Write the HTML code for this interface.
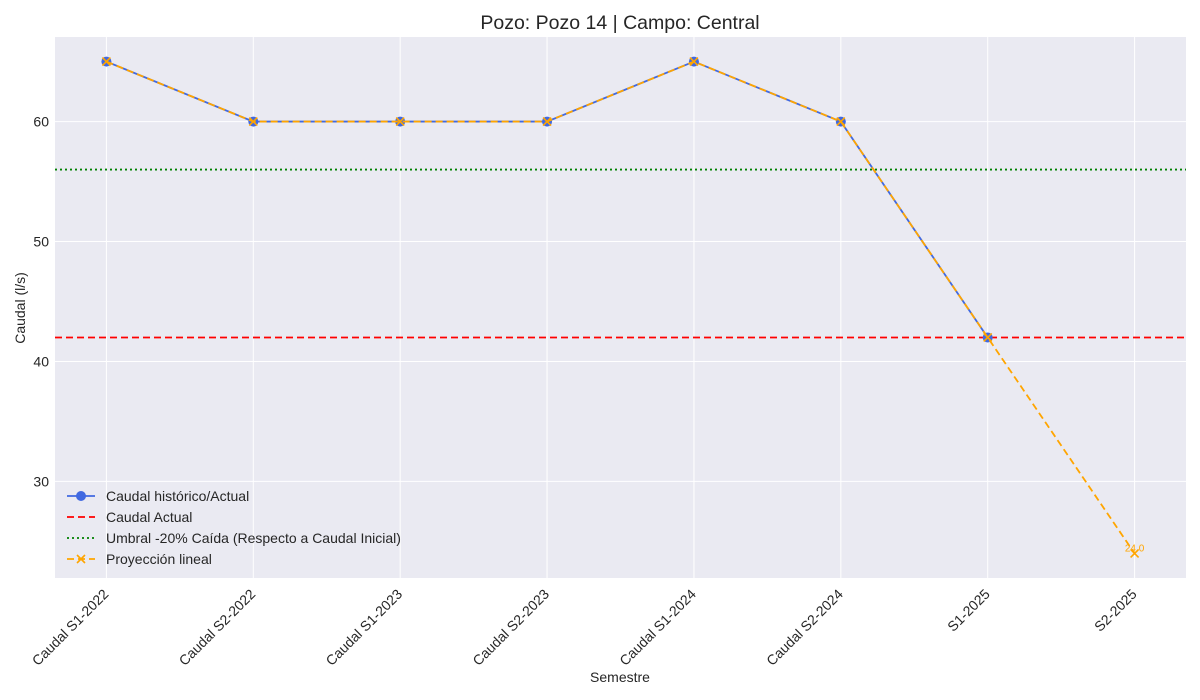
<!DOCTYPE html>
<html><head><meta charset="utf-8"><style>
body{margin:0;background:#fff;}
svg{display:block;font-family:"Liberation Sans","DejaVu Sans",sans-serif;}
</style></head><body>
<svg id="c" width="1200" height="700" xmlns="http://www.w3.org/2000/svg"></svg>
<script>
const categories=["Caudal S1-2022","Caudal S2-2022","Caudal S1-2023","Caudal S2-2023","Caudal S1-2024","Caudal S2-2024","S1-2025","S2-2025"];
const historico=[65,60,60,60,65,60,42];
const proyeccion=[65,60,60,60,65,60,42,24];
const caudalActual=42;
const umbral=56;
const yTicks=[30,40,50,60];
const L=55,R=1186,T=37,B=578,x0=-0.35,x1=7.35,y0=21.95,y1=67.05;
const X=i=>L+(i-x0)/(x1-x0)*(R-L);
const Y=v=>B-(v-y0)/(y1-y0)*(B-T);
const svg=document.getElementById('c');
const NS='http://www.w3.org/2000/svg';
function el(tag,attrs,parent){const e=document.createElementNS(NS,tag);for(const k in attrs)e.setAttribute(k,attrs[k]);(parent||svg).appendChild(e);return e;}
let bg=el('rect',{x:L,y:T,width:R-L,height:B-T,fill:'#eaeaf2'});


categories.forEach((c,i)=>{
  let g=el('line',{x1:X(i),x2:X(i),y1:T,y2:B,stroke:'#fff','stroke-width':1});
  
  
  let t=el('text',{x:0,y:0,'font-size':14,fill:'#262626','text-anchor':'end',transform:`translate(${X(i)+3},${B+17}) rotate(-45)`});
  t.textContent=c;
  
  
});
yTicks.forEach(v=>{
  let g=el('line',{x1:L,x2:R,y1:Y(v),y2:Y(v),stroke:'#fff','stroke-width':1});
  
  
  let t=el('text',{x:L-6,y:Y(v)+5,'font-size':14,fill:'#262626','text-anchor':'end'});
  t.textContent=v;
  
  
});
let u=el('line',{x1:L,x2:R,y1:Y(umbral),y2:Y(umbral),stroke:'#008000','stroke-width':1.8,'stroke-dasharray':'2,3'});


let a=el('line',{x1:L,x2:R,y1:Y(caudalActual),y2:Y(caudalActual),stroke:'#ff0000','stroke-width':1.8,'stroke-dasharray':'7,4'});


let hp=el('polyline',{points:historico.map((v,i)=>X(i)+','+Y(v)).join(' '),fill:'none',stroke:'#4169e1','stroke-width':1.8});


historico.forEach((v,i)=>{
  let m=el('circle',{cx:X(i),cy:Y(v),r:5,fill:'#4169e1'});
  
  
});
let pp=el('polyline',{points:proyeccion.map((v,i)=>X(i)+','+Y(v)).join(' '),fill:'none',stroke:'#ffa500','stroke-width':1.8,'stroke-dasharray':'7,4'});


proyeccion.forEach((v,i)=>{
  let m=el('path',{d:`M${X(i)-4},${Y(v)-4}L${X(i)+4},${Y(v)+4}M${X(i)-4},${Y(v)+4}L${X(i)+4},${Y(v)-4}`,stroke:'#ffa500','stroke-width':1.6});
  
  
});
const last=proyeccion.length-1;
let an=el('text',{x:X(last),y:Y(proyeccion[last])-2,'font-size':10,fill:'#ffa500','text-anchor':'middle'});
an.textContent=proyeccion[last].toFixed(1);


</script>
<svg x="0" y="0" width="1200" height="700" style="position:absolute;left:0;top:0" xmlns="http://www.w3.org/2000/svg">
<text x="620" y="29" font-size="19.5" fill="#262626" text-anchor="middle">Pozo: Pozo 14 | Campo: Central</text>
<text x="620" y="682" font-size="14" fill="#262626" text-anchor="middle">Semestre</text>
<text x="0" y="0" font-size="14" fill="#262626" text-anchor="middle" transform="translate(25,308) rotate(-90)">Caudal (l/s)</text>
<g font-size="14" fill="#262626">
<g><line x1="67" x2="95" y1="496" y2="496" stroke="#4169e1" stroke-width="1.8"/><circle cx="81" cy="496" r="5" fill="#4169e1"/><text x="106" y="501">Caudal histórico/Actual</text></g>
<g><line x1="67" x2="95" y1="517" y2="517" stroke="#ff0000" stroke-width="1.8" stroke-dasharray="7,4"/><text x="106" y="522">Caudal Actual</text></g>
<g><line x1="67" x2="95" y1="538" y2="538" stroke="#008000" stroke-width="1.8" stroke-dasharray="2,3"/><text x="106" y="543">Umbral -20% Caída (Respecto a Caudal Inicial)</text></g>
<g><line x1="67" x2="95" y1="559" y2="559" stroke="#ffa500" stroke-width="1.8" stroke-dasharray="7,4"/><path d="M77,555L85,563M77,563L85,555" stroke="#ffa500" stroke-width="1.6"/><text x="106" y="564">Proyección lineal</text></g>
</g>
</svg>
</body></html>
